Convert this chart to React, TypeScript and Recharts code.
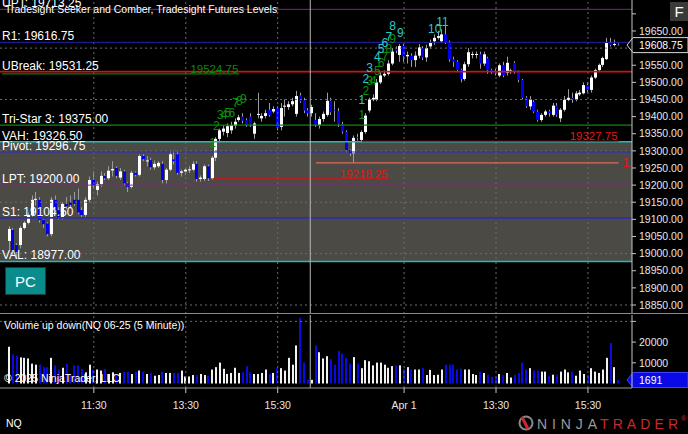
import React from 'react';
import { ComposedChart, Bar, XAxis, YAxis, ReferenceLine, ReferenceArea, ReferenceDot } from 'recharts';

// 5 minute bars, slot 0 = 9:30 on day 1, day 2 starts at slot 81
const FIRST_BAR = 2;
const SLOT_COUNT = 165;
const SESSION_START = 81;

const opens = [
  19037, 19069, 19025, 19025, 19075, 19090, 19113, 19157, 19157, 19098, 19088, 19057, 19157, 19127, 19106, 19145,
  19150, 19157, 19157, 19127, 19113, 19157, 19215, 19186, 19203, 19227, 19220, 19243, 19250, 19222, 19240, 19205,
  19195, 19236, 19230, 19285, 19270, 19273, 19252, 19255, 19262, 19215, 19245, 19275, 19290, 19236, 19240, 19245,
  19245, 19262, 19218, 19218, 19255, 19220, 19280, 19335, 19356, 19352, 19360, 19373, 19390, 19400, 19390, 19400,
  19350, 19405, 19395, 19402, 19420, 19415, 19425, 19370, 19430, 19428, 19436, 19408, 19462, 19448, 19418,
  19410, 19390, 19376, 19393, 19405, 19446, 19420, 19416, 19378, 19355, 19302, 19293, 19340, 19332, 19355, 19418,
  19450, 19449, 19500, 19520, 19525, 19555, 19598, 19580, 19606, 19576, 19578, 19565, 19578, 19600, 19573, 19605,
  19620, 19630, 19620, 19640, 19617, 19567, 19560, 19536, 19510, 19553, 19580, 19580, 19582, 19555, 19570, 19536,
  19532, 19520, 19550, 19528, 19530, 19557, 19530, 19507, 19455, 19430, 19443, 19415, 19390, 19405, 19415, 19405,
  19432, 19395, 19420, 19449, 19455, 19450, 19465, 19468, 19492, 19478, 19514, 19536, 19551, 19568, 19615, 19609,
  19610,
];
const highs = [
  19080, 19075, 19030, 19080, 19095, 19120, 19170, 19180, 19165, 19100, 19092, 19165, 19170, 19135, 19150, 19165,
  19170, 19180, 19190, 19135, 19165, 19225, 19240, 19210, 19240, 19235, 19255, 19270, 19255, 19250, 19245, 19210,
  19242, 19240, 19290, 19290, 19285, 19280, 19272, 19270, 19270, 19250, 19300, 19300, 19300, 19245, 19250, 19255,
  19270, 19270, 19228, 19260, 19260, 19285, 19340, 19365, 19375, 19380, 19385, 19395, 19405, 19410, 19395, 19410,
  19385, 19470, 19410, 19420, 19440, 19430, 19430, 19440, 19450, 19445, 19455, 19475, 19470, 19455, 19425,
  19435, 19410, 19400, 19415, 19470, 19455, 19445, 19425, 19385, 19360, 19305, 19345, 19350, 19360, 19410, 19455,
  19465, 19510, 19530, 19535, 19565, 19600, 19605, 19612, 19612, 19590, 19585, 19590, 19612, 19606, 19610, 19625,
  19640, 19650, 19655, 19665, 19622, 19575, 19565, 19540, 19560, 19600, 19590, 19590, 19590, 19590, 19575, 19540,
  19540, 19555, 19560, 19575, 19540, 19562, 19535, 19510, 19460, 19460, 19448, 19420, 19410, 19420, 19420, 19440,
  19440, 19425, 19460, 19480, 19470, 19475, 19478, 19500, 19500, 19520, 19540, 19555, 19575, 19630, 19630, 19625,
  19614,
];
const lows = [
  19011, 18995, 18985, 19015, 19070, 19085, 19108, 19140, 19090, 19075, 19050, 19050, 19120, 19100, 19100, 19130,
  19135, 19140, 19115, 19105, 19108, 19150, 19190, 19170, 19195, 19215, 19215, 19225, 19220, 19215, 19200, 19180,
  19190, 19225, 19225, 19270, 19255, 19245, 19245, 19250, 19205, 19205, 19240, 19260, 19230, 19225, 19230, 19235,
  19240, 19210, 19210, 19212, 19212, 19215, 19270, 19325, 19345, 19340, 19350, 19365, 19385, 19380, 19370, 19370,
  19335, 19395, 19385, 19395, 19400, 19410, 19360, 19360, 19400, 19420, 19430, 19400, 19440, 19410, 19400,
  19400, 19370, 19365, 19385, 19400, 19405, 19385, 19370, 19350, 19295, 19285, 19265, 19330, 19325, 19350, 19412,
  19445, 19445, 19495, 19515, 19520, 19550, 19585, 19560, 19560, 19555, 19545, 19545, 19570, 19565, 19560, 19598,
  19610, 19625, 19615, 19612, 19560, 19545, 19530, 19500, 19505, 19545, 19570, 19570, 19540, 19548, 19525, 19525,
  19520, 19515, 19515, 19520, 19525, 19525, 19500, 19450, 19425, 19420, 19410, 19385, 19385, 19400, 19400, 19400,
  19400, 19384, 19415, 19445, 19440, 19445, 19460, 19465, 19470, 19470, 19510, 19530, 19545, 19565, 19605, 19605,
  19606,
];
const closes = [
  19072, 19005, 19005, 19075, 19090, 19113, 19157, 19160, 19098, 19086, 19057, 19157, 19127, 19106, 19145, 19138,
  19142, 19145, 19120, 19113, 19157, 19215, 19200, 19203, 19227, 19220, 19242, 19247, 19227, 19240, 19205, 19195,
  19236, 19230, 19285, 19276, 19272, 19252, 19262, 19265, 19215, 19245, 19290, 19270, 19236, 19240, 19245, 19246,
  19262, 19218, 19222, 19255, 19220, 19280, 19335, 19360, 19365, 19372, 19375, 19385, 19398, 19388, 19375, 19376,
  19380, 19408, 19402, 19410, 19405, 19422, 19367, 19425, 19432, 19436, 19445, 19460, 19445, 19418, 19410,
  19428, 19376, 19393, 19408, 19446, 19413, 19418, 19378, 19357, 19302, 19293, 19338, 19338, 19355, 19403, 19450,
  19455, 19500, 19520, 19525, 19555, 19590, 19592, 19606, 19576, 19580, 19565, 19578, 19602, 19573, 19600, 19615,
  19630, 19635, 19640, 19617, 19567, 19560, 19536, 19510, 19553, 19588, 19583, 19583, 19555, 19582, 19536, 19530,
  19528, 19550, 19520, 19557, 19535, 19530, 19507, 19455, 19430, 19450, 19415, 19390, 19405, 19415, 19410, 19432,
  19405, 19420, 19449, 19455, 19450, 19468, 19470, 19492, 19478, 19514, 19536, 19551, 19571, 19615, 19609, 19612,
  19608.75,
];
const volumes = [
  17750, 14100, 13400, 12600, 12400, 12100, 9600, 9100, 9100, 7900, 7900, 12400, 8750, 6750, 7600, 9600,
  4600, 8750, 8750, 7100, 5400, 9100, 6750, 6750, 6250, 7100, 4600, 5400, 4100, 5100, 5750, 5750,
  4600, 5750, 6250, 5750, 4600, 5100, 3750, 4100, 5750, 5100, 5100, 5100, 5100, 6250, 3400, 3400,
  4100, 4100, 4600, 4100, 3750, 6750, 7900, 10100, 7100, 4600, 5100, 7600, 5100, 5400, 8400, 5400,
  4600, 4600, 5100, 6750, 4600, 5100, 7400, 7400, 6250, 12400, 9100, 18400, 31750, 10100, 1750,
  1750, 18400, 15100, 12100, 13200, 11750, 9100, 15750, 14400, 12400, 9600, 12750, 9600, 7400, 11250, 10750,
  8750, 10100, 10100, 9100, 7600, 8400, 8750, 8750, 7100, 7900, 6750, 6750, 6750, 7600, 4100, 6600,
  4100, 4250, 6750, 9100, 9100, 9100, 6750, 7100, 6750, 6750, 4600, 4100, 5750, 5100, 4250, 3250,
  3250, 4600, 4100, 5100, 2900, 4100, 5100, 10100, 6750, 7400, 6250, 6250, 5750, 5750, 3750, 4250,
  4250, 5750, 6750, 5400, 5750, 3750, 6250, 4600, 4100, 7400, 5750, 5100, 6750, 12400, 19600, 7900,
  1691,
];

const timeTicks = [24, 48, 72, 105, 129, 153];
const timeLabels = ['11:30', '13:30', '15:30', 'Apr 1', '13:30', '15:30'];

const priceTicks = [18850, 18900, 18950, 19000, 19050, 19100, 19150, 19200, 19250, 19300, 19350, 19400, 19450, 19500, 19550, 19650, 19700];
const hiddenPriceLabels = [19700];
const priceGrid = [18850, 19000, 19150, 19300, 19450, 19600];
const volumeTicks = [10000, 20000, 30000];

const levelNames = ['UPT', 'R1', 'UBreak', 'Tri-Star 3', 'VAH', 'Pivot', 'LPT', 'S1', 'VAL'];
const levelValues = [19713.25, 19616.75, 19531.25, 19375.0, 19326.5, 19296.75, 19200.0, 19104.5, 18977.0];
const levelColors = ['#8d1f8d', '#2020a8', '#c81616', '#0c8a0c', '#2eb6b6', '#2a2ad2', '#8d1f8d', '#2c2cb8', '#2eb6b6'];
const levelWidths = [1, 1, 1.6, 1.2, 1.5, 1.2, 1, 1.8, 1.5];

const segValues = [19524.75, 19327.75, 19264.75, 19218.25];
const segFrom = [0, 94, 82, 55];
const segTo = [62, 161, 161, 101];
const segTexts = ['19524.75', '19327.75', '1', '19218.25'];
const segColors = ['#0b7a0b', '#d41414', '#e06a5a', '#d41414'];

const seekerIdx = [55, 56, 57, 58, 59, 60, 61, 62, 63];
const seekerPrice = [19323, 19373, 19405, 19405, 19410, 19410, 19440, 19445, 19451];
const setupIdx = [94, 95, 96, 98, 99, 100, 101, 102, 104, 113, 115];
const setupPrice = [19449, 19510, 19542, 19574, 19597, 19615, 19632, 19665, 19644, 19656, 19676];
const comberIdx = [94, 95, 96, 97, 98, 99, 100, 101, 102];
const comberPrice = [19405, 19475, 19504, 19504, 19533, 19557, 19574, 19597, 19627];

const lastPrice = closes[closes.length - 1];
const lastVolume = volumes[volumes.length - 1];

const bars = Array.from({ length: SLOT_COUNT }, (_, i) => {
  const k = i - FIRST_BAR;
  if (k < 0 || k >= closes.length) return { i };
  return {
    i,
    open: opens[k],
    high: highs[k],
    low: lows[k],
    close: closes[k],
    range: [lows[k], highs[k]],
    volume: volumes[k],
    volRange: [0, volumes[k]],
    up: closes[k] >= opens[k],
  };
});

const Candle = (props: any) => {
  const { x, y, width, height, payload } = props;
  if (!payload || payload.open == null) return <g />;
  const { open, close, high, low } = payload;
  const top = Math.min(y, y + height);
  const h = Math.abs(height);
  const py = (p: number) => top + ((high - p) / (high - low || 1)) * h;
  const cx = Math.floor(x + width / 2) + 0.5;
  const b1 = py(Math.max(open, close));
  const b2 = py(Math.min(open, close));
  return (
    <g>
      <line x1={cx} x2={cx} y1={top} y2={top + h} stroke="#9c9c9c" strokeWidth={1} />
      <rect x={cx - 1.5} y={b1} width={3} height={Math.max(1, b2 - b1)} fill={payload.up ? '#ffffff' : '#0000f0'} />
    </g>
  );
};

const VolumeBar = (props: any) => {
  const { x, y, width, height, payload } = props;
  if (!payload || payload.volume == null) return <g />;
  const top = Math.min(y, y + height);
  return <rect x={Math.floor(x + width / 2) - 1} y={top} width={2} height={Math.abs(height)} fill={payload.up ? '#f2f2f2' : '#0a0ae6'} />;
};

const tag = (text: string, fill: string, stroke: string) => (p: any) => {
  const vb = p.viewBox || {};
  const x = vb.x + vb.width;
  const y = vb.y;
  const pts = `${x - 5},${y} ${x + 1},${y - 7.5} ${x + 56},${y - 7.5} ${x + 56},${y + 7.5} ${x + 1},${y + 7.5}`;
  return (
    <g>
      <polygon points={pts} fill={fill} stroke={stroke} strokeWidth={1} />
      <text x={x + 7} y={y} dy="0.36em" fill="#ffffff" fontSize={10.5}>{text}</text>
    </g>
  );
};

const numberLabel = (text: string, color: string) => (p: any) => (
  <text x={p.cx} y={p.cy} fill={color} fontSize={12} textAnchor="middle" dominantBaseline="central">{text}</text>
);

const gridStroke = '#6c6c6c';
const fmtTime = (v: number) => timeLabels[timeTicks.indexOf(v)] ?? '';

export default function App() {
  return (
    <div style={{ position: 'absolute', left: 0, top: 0, width: 688, height: 434, background: '#000', overflow: 'hidden', fontFamily: 'Arial, "Liberation Sans", sans-serif', color: '#fff' }}>
      <div style={{ position: 'absolute', left: 0, top: 0 }}>
        <ComposedChart width={688} height={314} data={bars} margin={{ top: 0, right: 0, bottom: 0, left: 0 }} barCategoryGap={0}>
          <XAxis dataKey="i" type="category" hide />
          <YAxis
            orientation="right"
            width={56}
            domain={[18823.7, 19740.5]}
            allowDataOverflow
            ticks={priceTicks}
            tickFormatter={(v: number) => (hiddenPriceLabels.includes(v) ? '' : v.toFixed(2))}
            tick={{ fill: '#e6e6e6', fontSize: 10.5 }}
            axisLine={{ stroke: '#c4c4c4' }}
            tickLine={{ stroke: '#c4c4c4' }}
            tickSize={4}
            tickMargin={3}
          />
          <ReferenceArea y1={levelValues[8]} y2={levelValues[4]} fill="#4b4a44" fillOpacity={1} stroke="none" />
          {priceGrid.map((v) => (
            <ReferenceLine key={'pg' + v} y={v} stroke={gridStroke} strokeDasharray="2 3" />
          ))}
          {timeTicks.map((t) => (
            <ReferenceLine key={'pv' + t} x={t} stroke={gridStroke} strokeDasharray="2 3" />
          ))}
          {levelValues.map((v, k) => (
            <ReferenceLine
              key={'lv' + k}
              y={v}
              stroke={levelColors[k]}
              strokeWidth={levelWidths[k]}
              label={{ value: `${levelNames[k]}: ${v.toFixed(2)}`, position: 'insideBottomLeft', fill: '#ffffff', fontSize: 12, offset: 2 }}
            />
          ))}
          {segValues.map((v, k) => (
            <ReferenceLine
              key={'sg' + k}
              segment={[{ x: segFrom[k], y: v }, { x: segTo[k], y: v }]}
              stroke={segColors[k]}
              strokeWidth={1.3}
              label={{
                value: segTexts[k],
                position: segTexts[k] === '1' ? 'right' : 'insideBottomRight',
                fill: k === 0 ? '#0b8a0b' : '#e01818',
                fontSize: segTexts[k] === '1' ? 12 : 11.5,
                offset: segTexts[k] === '1' ? 4 : 1,
              }}
            />
          ))}
          <ReferenceLine x={SESSION_START} position="start" stroke="#b8b8b8" />
          <Bar dataKey="range" shape={Candle} isAnimationActive={false} barSize={3} />
          {seekerIdx.map((x, k) => (
            <ReferenceDot key={'sk' + k} x={x} y={seekerPrice[k]} r={0} shape={numberLabel(String(k + 1), '#0d8f0d')} />
          ))}
          {comberIdx.map((x, k) => (
            <ReferenceDot key={'cb' + k} x={x} y={comberPrice[k]} r={0} shape={numberLabel(String(k + 1), '#0d8f0d')} />
          ))}
          {setupIdx.map((x, k) => (
            <ReferenceDot key={'su' + k} x={x} y={setupPrice[k]} r={0} shape={numberLabel(String(k + 1), '#2cc8c8')} />
          ))}
          <ReferenceLine y={lastPrice} stroke="none" label={tag(lastPrice.toFixed(2), '#000000', '#d8d8d8')} />
        </ComposedChart>
      </div>

      <div style={{ position: 'absolute', left: 0, top: 313, width: 688, height: 1, background: '#8a8a8a' }} />

      <div style={{ position: 'absolute', left: 0, top: 315 }}>
        <ComposedChart width={688} height={106} data={bars} margin={{ top: 0, right: 0, bottom: 0, left: 0 }} barCategoryGap={0}>
          <XAxis
            dataKey="i"
            type="category"
            ticks={timeTicks}
            interval={0}
            tickFormatter={fmtTime}
            height={33}
            tick={{ fill: '#e6e6e6', fontSize: 10.5 }}
            axisLine={{ stroke: '#9a9a9a' }}
            tickLine={{ stroke: '#c4c4c4' }}
            tickSize={5}
            tickMargin={9}
          />
          <YAxis
            orientation="right"
            width={56}
            domain={[-2170, 33090]}
            allowDataOverflow
            ticks={volumeTicks}
            tickFormatter={(v: number) => (v >= 30000 ? '' : String(v))}
            tick={{ fill: '#e6e6e6', fontSize: 10.5 }}
            axisLine={{ stroke: '#c4c4c4' }}
            tickLine={{ stroke: '#c4c4c4' }}
            tickSize={4}
            tickMargin={3}
          />
          <ReferenceLine y={30000} stroke={gridStroke} strokeDasharray="2 3" />
          {timeTicks.map((t) => (
            <ReferenceLine key={'vv' + t} x={t} stroke={gridStroke} strokeDasharray="2 3" />
          ))}
          <ReferenceLine x={SESSION_START} position="start" stroke="#b8b8b8" />
          <Bar dataKey="volRange" shape={VolumeBar} isAnimationActive={false} barSize={2} />
          <ReferenceLine y={lastVolume} stroke="none" label={tag(String(lastVolume), '#0a0ae6', '#4040ff')} />
        </ComposedChart>
      </div>

      <div style={{ position: 'absolute', left: 5, top: 3, fontSize: 10.5, whiteSpace: 'nowrap' }}>
        Tradesight Seeker and Comber, Tradesight Futures Levels
      </div>
      <div style={{ position: 'absolute', left: 4, top: 319, fontSize: 10.5, whiteSpace: 'nowrap' }}>
        Volume up down(NQ 06-25 (5 Minute))
      </div>
      <div style={{ position: 'absolute', left: 4, top: 372, fontSize: 10.5, whiteSpace: 'nowrap' }}>
        © 2025 NinjaTrader, LLC
      </div>
      <div style={{ position: 'absolute', left: 6, top: 417, fontSize: 10.5 }}>NQ</div>

      <div style={{ position: 'absolute', left: 5, top: 267, width: 39, height: 26, background: '#0a8c8c', border: '1px solid #1c3c3c', color: '#fff', fontSize: 15, display: 'flex', alignItems: 'center', justifyContent: 'center' }}>
        PC
      </div>
      <div style={{ position: 'absolute', left: 670, top: 2, width: 18, height: 19, background: '#3a3a3a', color: '#fff', fontSize: 15, display: 'flex', alignItems: 'center', justifyContent: 'center' }}>
        F
      </div>

      <svg style={{ position: 'absolute', left: 514, top: 412 }} width={174} height={22}>
        <circle cx={12} cy={11} r={6.5} fill="none" stroke="#8a8a8a" strokeWidth={2} />
        <path d="M8 5 L14 17" stroke="#c8282e" strokeWidth={3} />
        <text x={23} y={17} fontSize={14} textLength={60} lengthAdjust="spacing" fill="#9a9a9a">NINJA</text>
        <text x={86} y={17} fontSize={14} textLength={78} lengthAdjust="spacing" fill="#c8282e">TRADER</text>
        <text x={167} y={9} fontSize={7} fill="#c8282e">®</text>
      </svg>
    </div>
  );
}
